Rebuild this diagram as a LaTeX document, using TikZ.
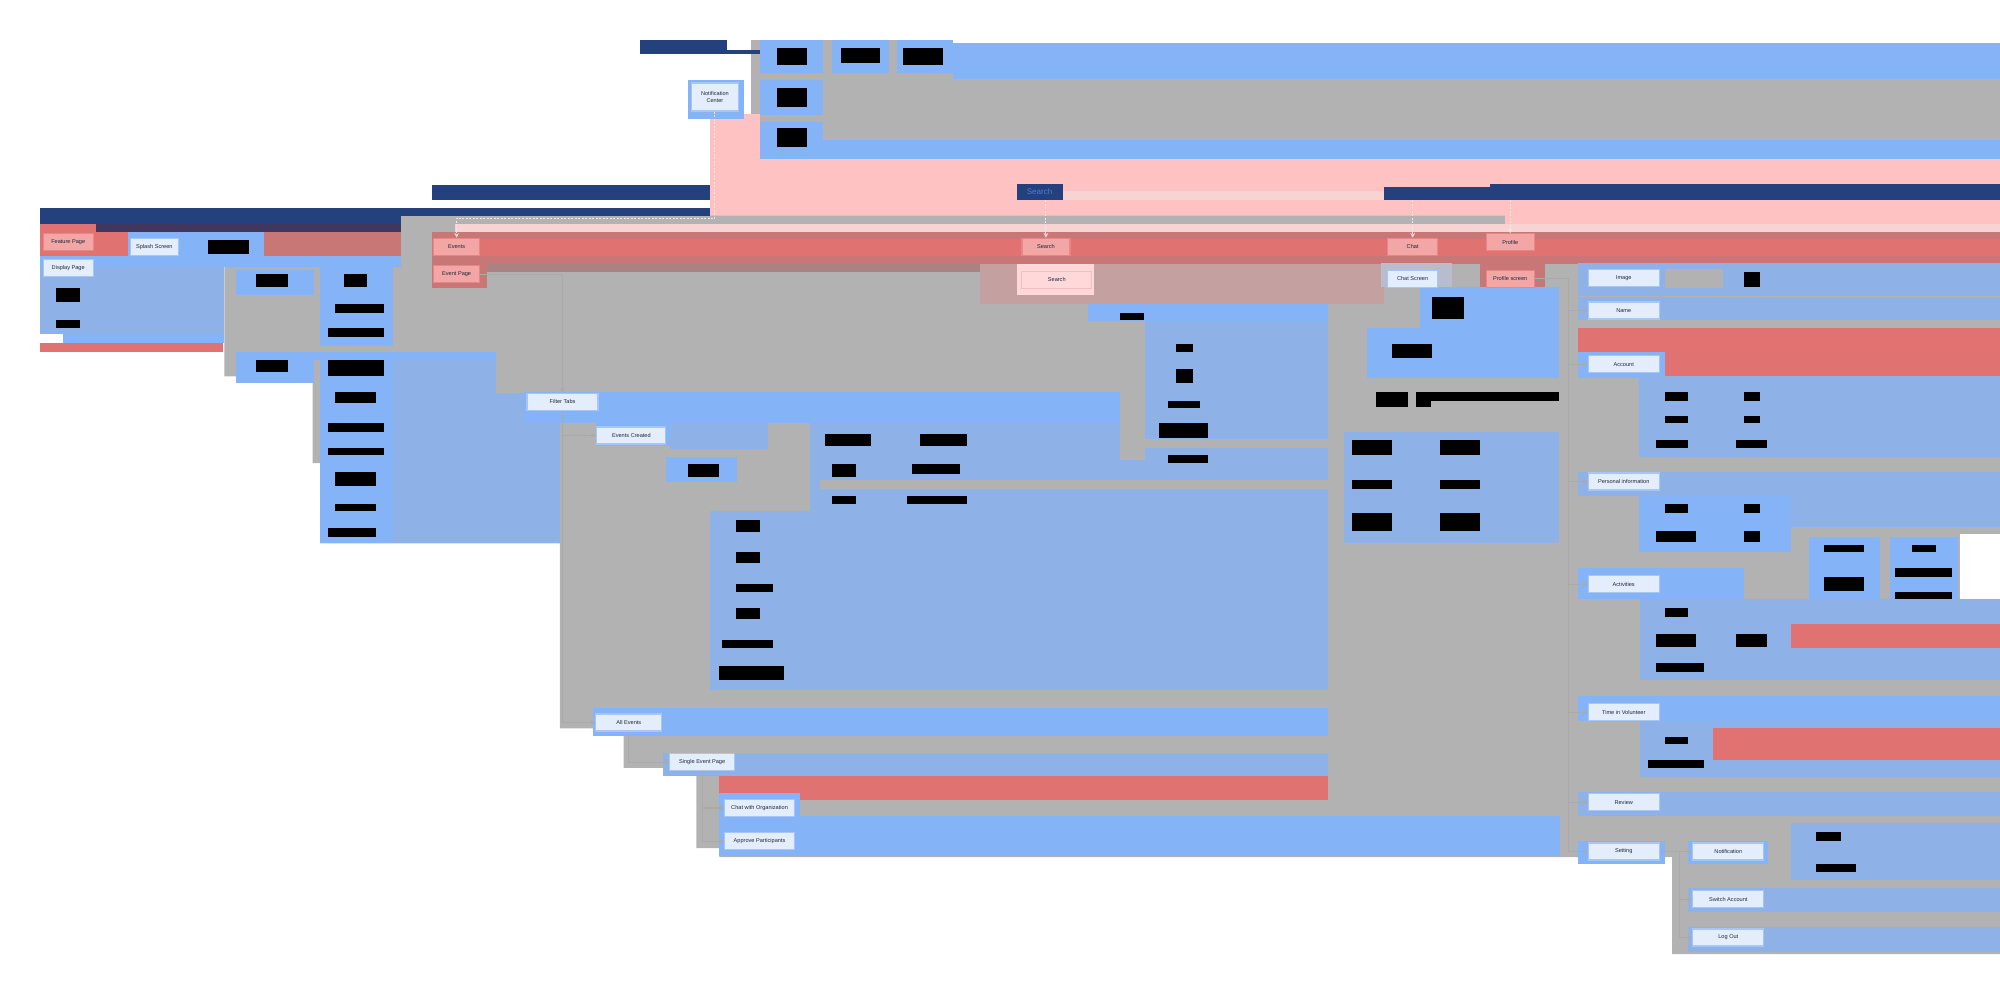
\documentclass[tikz,border=0pt]{standalone}
\usepackage{fontspec}
\setmainfont{Liberation Sans}
\usetikzlibrary{arrows}

\definecolor{bandblue}{HTML}{85B3F7}
\definecolor{bandblueb}{HTML}{8EB2E8}
\definecolor{bandgray}{HTML}{B2B2B2}
\definecolor{bandred}{HTML}{E07272}
\definecolor{bandredb}{HTML}{C97676}
\definecolor{bandpink}{HTML}{FFC2C2}
\definecolor{bandpinkb}{HTML}{F8D3D3}
\definecolor{bandrose}{HTML}{C4A0A0}
\definecolor{bandmauve}{HTML}{A98383}
\definecolor{bandnavy}{HTML}{24417D}
\definecolor{bandpurple}{HTML}{40365E}
\definecolor{chatbg}{HTML}{B8BCCB}
\definecolor{pagefill}{HTML}{E3EDFC}
\definecolor{pageedge}{HTML}{A6C6F6}
\definecolor{pagetext}{HTML}{1F2937}
\definecolor{redfill}{HTML}{F2A6A6}
\definecolor{rededge}{HTML}{EB8585}
\definecolor{softfill}{HTML}{FFD9D9}
\definecolor{softedge}{HTML}{F5BDBD}
\definecolor{edgegray}{HTML}{AAAAAA}
\definecolor{dashpink}{HTML}{FBE2E2}
\definecolor{hdrblue}{HTML}{4A7BE0}

\begin{document}
\begin{tikzpicture}[
    x=1.2755pt, y=-1.2755pt,
    page/.style={draw=pageedge, line width=1.2pt, fill=pagefill, text=pagetext, font=\fontsize{5.6}{6.4}\selectfont, inner sep=1pt, minimum width=50pt, minimum height=17pt},
    redpage/.style={page, draw=rededge, fill=redfill},
    wide/.style={minimum width=71pt},
    hdr/.style={fill=bandnavy, inner sep=0pt, text=hdrblue, font=\fontsize{8}{9}\selectfont},
    edge/.style={-stealth, line width=1.2pt, draw=edgegray},
    dashlink/.style={-stealth, line width=1.1pt, draw=dashpink, dash pattern=on 2pt off 1.5pt},
]
\useasboundingbox (0,0) rectangle (1568,776);

% Notification cluster
\fill[bandgray] (589,31) rectangle (747,62);
\fill[bandgray] (589,57) rectangle (1568,111);
\fill[bandpink] (557,89) rectangle (596,169);
\fill[bandpink] (596,111) rectangle (1568,169);
\fill[bandblue] (747,34) rectangle (1568,62);
\fill[bandblue] (596,31) rectangle (645,57);
\fill[bandblue] (652,31) rectangle (697,57);
\fill[bandblue] (703,31) rectangle (747,57);
\fill[bandblue] (596,63) rectangle (645,90);
\fill[bandblue] (596,96) rectangle (645,125);
\fill[bandblue] (596,110) rectangle (1568,125);
\fill[bandblue] (539,63) rectangle (583,93);
\fill[bandnavy] (502,31) rectangle (570,42);
\fill[bandnavy] (570,39) rectangle (596,42);

% Gray base
\fill[bandgray] (308,169) -- (1568,169) -- (1568,748) -- (1311,748) -- (1311,672) -- (564,672) -- (564,665) -- (546,665) -- (546,608) -- (520,608) -- (520,602) -- (489,602) -- (489,571) -- (439,571) -- (439,426) -- (251,426) -- (251,363) -- (245,363) -- (245,295) -- (176,295) -- (176,204) -- (308,204) -- cycle;
\fill[bandpinkb] (357,176) rectangle (1568,182);
\fill[bandpink] (1180,157) rectangle (1568,176);
\fill[bandpinkb] (833,150) rectangle (1085,157);

% Onboarding
\fill[bandnavy] (31,163) rectangle (314,176);
\fill[bandnavy] (298,163) rectangle (557,169);
\fill[bandnavy] (339,145) rectangle (557,157);
\fill[bandred] (31,176) rectangle (75,182);
\fill[bandpurple] (75,176) rectangle (314,182);
\fill[bandred] (31,182) rectangle (100,201);
\fill[bandblue] (100,182) rectangle (207,201);
\fill[bandredb] (207,182) rectangle (314,201);
\fill[bandblue] (31,201) rectangle (314,209);
\fill[bandblueb] (31,209) rectangle (176,262);
\fill[bandblue] (49,262) rectangle (176,269);
\fill[bandred] (31,269) rectangle (175,276);
\fill[bandblue] (185,212) rectangle (246,231);
\fill[bandblue] (251,206) rectangle (308,271);
\fill[bandblue] (185,276) rectangle (389,282);
\fill[bandblue] (185,277) rectangle (246,300);
\fill[bandblueb] (308,282) rectangle (389,308);
\fill[bandblue] (251,276) rectangle (308,426);
\fill[bandblueb] (308,308) rectangle (439,426);

% Tab bar row
\fill[bandredb] (339,182) rectangle (1568,207);
\fill[bandred] (339,187) rectangle (1568,201);
\fill[bandredb] (339,207) rectangle (382,226);
\fill[bandmauve] (382,207) rectangle (780,213);
\fill[bandrose] (768,207) rectangle (1085,238);
\fill[softfill] (797,207) rectangle (858,231);
\fill[chatbg] (1083,206) rectangle (1138,225);
\fill[bandredb] (1160,206) rectangle (1211,233);

% Events
\fill[bandblue] (411,307) rectangle (1041,332);
\fill[bandblue] (467,332) rectangle (525,350);
\fill[bandblueb] (525,332) rectangle (602,352);
\fill[bandblue] (522,358) rectangle (578,378);
\fill[bandblueb] (635,332) rectangle (1041,401);
\fill[bandgray] (643,376) rectangle (1041,383);
\fill[bandblueb] (557,401) rectangle (1041,541);
\fill[bandblue] (465,555) rectangle (1041,577);
\fill[bandblueb] (520,590) rectangle (1041,608);
\fill[bandred] (564,608) rectangle (1041,627);
\fill[bandblue] (564,622) rectangle (627,640);
\fill[bandblue] (564,640) rectangle (1223,671);

% Search
\fill[bandblue] (853,238) rectangle (1041,252);
\fill[bandblueb] (898,252) rectangle (1041,376);
\fill[bandgray] (878,256) rectangle (898,361);
\fill[bandgray] (898,344) rectangle (1041,351);

% Chat
\fill[bandblue] (1113,225) rectangle (1222,296);
\fill[bandblue] (1072,257) rectangle (1138,296);
\fill[bandblueb] (1054,339) rectangle (1222,426);

% Profile
\fill[bandblueb] (1237,206) rectangle (1568,232);
\fill[bandgray] (1305,211) rectangle (1351,226);
\fill[bandblueb] (1237,233) rectangle (1568,251);
\fill[bandred] (1237,257) rectangle (1568,276);
\fill[bandred] (1305,276) rectangle (1568,295);
\fill[bandblue] (1237,276) rectangle (1305,296);
\fill[bandblueb] (1285,295) rectangle (1568,358);
\fill[bandblueb] (1237,370) rectangle (1568,389);
\fill[bandblue] (1285,389) rectangle (1404,433);
\fill[bandblueb] (1404,389) rectangle (1568,413);
\fill[bandblue] (1237,445) rectangle (1367,470);
\fill[bandblue] (1418,421) rectangle (1474,476);
\fill[bandblue] (1482,421) rectangle (1535,476);
\fill[white] (1537,419) rectangle (1568,477);
\fill[bandblueb] (1286,470) rectangle (1568,533);
\fill[bandred] (1404,489) rectangle (1568,508);
\fill[bandblue] (1237,546) rectangle (1568,565);
\fill[bandblueb] (1286,565) rectangle (1568,609);
\fill[bandred] (1343,571) rectangle (1568,596);
\fill[bandblueb] (1237,621) rectangle (1568,640);
\fill[bandblue] (1237,659) rectangle (1305,677);
\fill[bandblue] (1323,659) rectangle (1386,677);
\fill[bandblueb] (1404,645) rectangle (1568,690);
\fill[bandblueb] (1323,696) rectangle (1568,715);
\fill[bandblueb] (1323,727) rectangle (1568,746);

% Hidden screens
\foreach \a/\b/\c/\d in {609/38/633/51, 659/38/690/49, 708/38/739/51, 609/69/633/84, 609/100/633/115,
    163/188/195/199, 44/226/63/237, 44/251/63/257,
    201/215/226/225, 270/215/288/225, 263/238/301/245, 257/257/301/264, 201/282/226/292, 257/282/301/295,
    263/307/295/316, 257/332/301/339, 257/351/301/357, 263/370/295/381, 263/395/295/401, 257/414/295/421,
    539/364/564/374, 647/340/683/350, 721/340/758/350, 652/364/671/374, 715/364/753/372, 652/389/671/395, 711/389/758/395,
    577/408/596/417, 577/433/596/441, 577/458/606/464, 577/477/596/485, 566/502/606/508, 564/522/615/533,
    878/245/897/251, 922/270/935/276, 922/289/935/300, 916/314/941/320, 909/332/947/343, 916/357/947/363,
    1123/233/1148/250, 1091/270/1123/281, 1079/307/1104/319, 1110/307/1222/314, 1110/314/1122/319,
    1060/345/1091/357, 1129/345/1160/357, 1060/376/1091/383, 1129/376/1160/383, 1060/402/1091/416, 1129/402/1160/416,
    1367/213/1380/225, 1305/307/1323/314, 1367/307/1380/314, 1305/326/1323/332, 1367/326/1380/332, 1298/345/1323/351, 1361/345/1385/351,
    1305/395/1323/402, 1367/395/1380/402, 1298/416/1330/425, 1367/416/1380/425,
    1430/427/1461/433, 1499/427/1518/433, 1430/452/1461/463, 1486/445/1530/452, 1486/464/1530/470,
    1305/477/1323/484, 1298/497/1330/507, 1361/497/1385/507, 1298/520/1336/527,
    1305/578/1323/583, 1292/596/1336/602, 1424/652/1443/659, 1424/677/1455/684}
  \fill[black] (\a,\b) rectangle (\c,\d);

% Section headers
\node[hdr, minimum width=46pt, minimum height=16.6pt] (searchhdr) at (815,150.5) {Search};
\node[hdr, minimum width=122pt, minimum height=12.8pt] (chathdr) at (1133,152) {};
\node[hdr, minimum width=510pt, minimum height=16.6pt] (profhdr) at (1368,150.5) {};

% Screens
\node[page, minimum width=47pt, minimum height=28pt, align=center] (notif) at (560.5,76) {Notification\\Center};
\node[redpage] (featp) at (53.5,189.5) {Feature Page};
\node[page] (dispp) at (53.5,210) {Display Page};
\node[page, minimum width=48pt] (splash) at (121,193.5) {Splash Screen};
\node[redpage, minimum width=46pt] (events) at (358,193.5) {Events};
\node[redpage, minimum width=46pt] (evpage) at (358,215) {Event Page};
\node[redpage, minimum width=48pt] (search) at (820,193.5) {Search};
\node[page, draw=softedge, fill=softfill, minimum width=70pt] (search2) at (828.5,219.5) {Search};
\node[redpage] (chat) at (1107.5,193.5) {Chat};
\node[redpage, minimum width=48pt] (profile) at (1184,190) {Profile};
\node[page] (chatscr) at (1107.5,218.5) {Chat Screen};
\node[redpage, minimum width=48pt] (profscr) at (1184,218.5) {Profile screen};

\node[page, wide] (filter) at (441,315) {Filter Tabs};
\node[page, minimum width=69pt] (evcreated) at (495,341.5) {Events Created};
\node[page, minimum width=66pt] (allev) at (493,566.5) {All Events};
\node[page, minimum width=65pt] (single) at (550.5,597.5) {Single Event Page};
\node[page, minimum width=70pt] (chatorg) at (595.5,633.5) {Chat with Organization};
\node[page, minimum width=70pt] (approve) at (595.5,659.5) {Approve Participants};

\node[page, wide] (image) at (1273,218) {Image};
\node[page, wide] (name) at (1273,243.5) {Name};
\node[page, wide] (account) at (1273,285.5) {Account};
\node[page, wide] (persinfo) at (1273,377.5) {Personal information};
\node[page, wide] (activ) at (1273,458) {Activities};
\node[page, wide] (timevol) at (1273,558.5) {Time in Volunteer};
\node[page, wide] (review) at (1273,629) {Review};
\node[page, wide] (setting) at (1273,667.5) {Setting};
\node[page, wide] (notifset) at (1355,667.5) {Notification};
\node[page, wide] (switch) at (1355,705) {Switch Account};
\node[page, wide] (logout) at (1355,735) {Log Out};

% Links from the headers
\coordinate (notifbend) at (560.5,171);
\draw[dashlink] (notif.south) -- (notifbend) -| (events.north);
\draw[dashlink] (search.north |- searchhdr.south) -- (search.north);
\draw[dashlink] (chat.north |- chathdr.south) -- (chat.north);
\draw[dashlink] (profile.north |- profhdr.south) -- (profile.north);

% Flow
\draw[edge] (evpage.east) -| (filter.north);
\draw[edge] (filter.south) |- (evcreated.west);
\draw[edge] (filter.south) |- (allev.west);
\draw[edge] (allev.south) |- (single.west);
\draw[edge] (single.south) |- (chatorg.west);
\draw[edge] (single.south) |- (approve.west);

\coordinate (ptrunk) at (1230,218.5);
\draw[edge, -] (profscr.east) -- (ptrunk);
\draw[edge] (ptrunk) |- (name.west);
\draw[edge] (ptrunk) |- (account.west);
\draw[edge] (ptrunk) |- (persinfo.west);
\draw[edge] (ptrunk) |- (activ.west);
\draw[edge] (ptrunk) |- (timevol.west);
\draw[edge] (ptrunk) |- (review.west);
\draw[edge] (ptrunk) |- (setting.west);

\coordinate (strunk) at (1317,667.5);
\draw[edge] (setting) -- (notifset);
\draw[edge] (strunk) |- (switch.west);
\draw[edge] (strunk) |- (logout.west);

\end{tikzpicture}
\end{document}
